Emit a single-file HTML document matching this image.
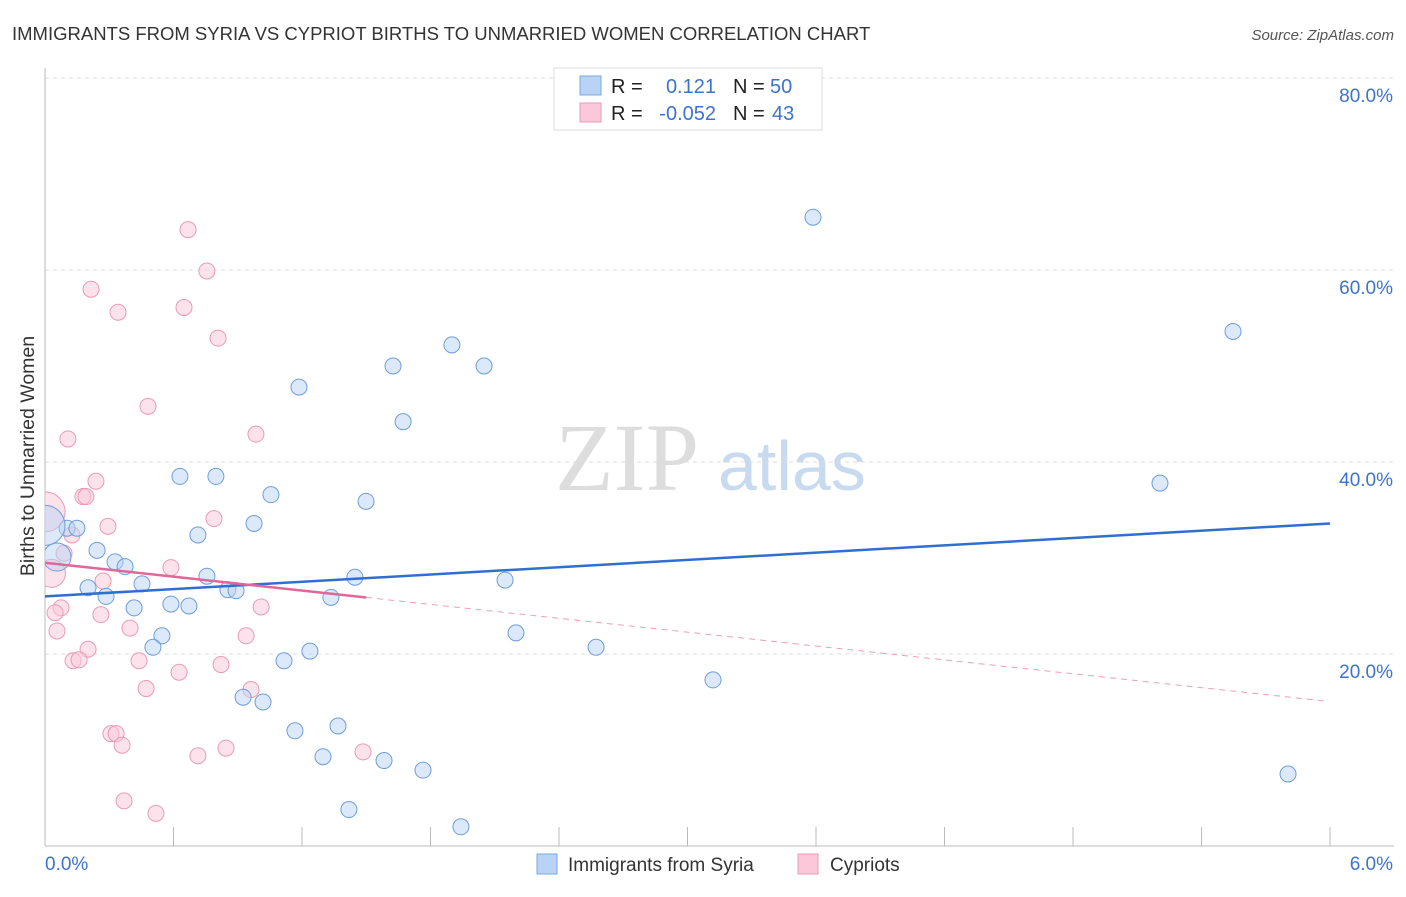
<!DOCTYPE html>
<html><head><meta charset="utf-8"><style>
body{margin:0;background:#fff;font-family:"Liberation Sans",sans-serif;}
svg text{font-family:"Liberation Sans",sans-serif;}
</style></head><body>
<svg id="chart" width="1406" height="892" xmlns="http://www.w3.org/2000/svg">
<defs><clipPath id="plotclip"><rect x="45" y="60" width="1360" height="786"/></clipPath></defs>
<text x="12" y="40" font-size="18.5" fill="#333">IMMIGRANTS FROM SYRIA VS CYPRIOT BIRTHS TO UNMARRIED WOMEN CORRELATION CHART</text>
<text x="1394" y="40" font-size="15" fill="#555" font-style="italic" text-anchor="end">Source: ZipAtlas.com</text>
<text transform="translate(34,456) rotate(-90)" font-size="19.5" fill="#333" text-anchor="middle">Births to Unmarried Women</text>
<g>
<text x="555" y="490" font-size="96" fill="#ddd" style="font-family:'Liberation Serif',serif">ZIP</text>
<text x="718" y="490" font-size="70" fill="#c8daf0">atlas</text>
</g>
<g id="grid"></g><g id="axes"></g><g id="pts" clip-path="url(#plotclip)"></g><g id="lines"></g>
<g>
<rect x="554" y="68" width="268" height="62" fill="#fff" stroke="#ddd"/>
<rect x="580" y="76" width="21" height="19" fill="#b8d3f5" stroke="#7aa8e0"/>
<rect x="580" y="103" width="21" height="19" fill="#fac8d8" stroke="#ec9ab5"/>
<text x="611" y="93" font-size="20" fill="#222">R =</text>
<text x="716" y="93" font-size="20" fill="#3b73cf" text-anchor="end">0.121</text>
<text x="733" y="93" font-size="20" fill="#222">N =</text>
<text x="770" y="93" font-size="20" fill="#3b73cf">50</text>
<text x="611" y="120" font-size="20" fill="#222">R =</text>
<text x="716" y="120" font-size="20" fill="#3b73cf" text-anchor="end">-0.052</text>
<text x="733" y="120" font-size="20" fill="#222">N =</text>
<text x="772" y="120" font-size="20" fill="#3b73cf">43</text>
</g>
<g>
<rect x="537" y="854" width="20" height="20" fill="#b8d3f5" stroke="#7aa8e0"/>
<text x="568" y="871" font-size="19" fill="#333">Immigrants from Syria</text>
<rect x="798" y="854" width="20" height="20" fill="#fac8d8" stroke="#ec9ab5"/>
<text x="830" y="871" font-size="19" fill="#333">Cypriots</text>
</g>
</svg>
<script>
const blueX=[3.586,5.547,1.900,1.625,2.050,1.186,1.672,0.630,0.798,5.206,1.055,1.499,0.976,0.103,0.149,0.714,0.243,0.056,0.327,0.374,0.756,1.447,2.148,0.453,0.201,0.854,0.892,0.285,1.335,0.588,0.672,0.416,2.199,0.546,0.504,2.573,1.237,1.116,3.119,0.925,1.018,1.167,1.368,1.298,1.583,1.765,5.804,1.419,1.942,0.0];
const blueY=[65.5,53.6,52.2,50.0,50.0,47.8,44.2,38.5,38.5,37.8,36.6,35.9,33.6,33.1,33.1,32.4,30.8,30.1,29.6,29.1,28.1,28.0,27.7,27.3,26.9,26.7,26.6,26.0,25.9,25.2,25.0,24.8,22.2,21.9,20.7,20.7,20.3,19.3,17.3,15.5,15.0,12.0,12.5,9.3,8.9,7.9,7.5,3.8,2.0,33.4];
const pinkX=[0.668,0.756,0.215,0.649,0.341,0.808,0.481,0.985,0.107,0.238,0.177,0.191,0.789,0.294,0.0,0.126,0.089,0.588,0.271,0.03,0.075,0.047,0.261,0.397,0.939,0.056,0.201,0.131,0.159,0.439,0.822,0.626,0.472,0.962,1.009,0.308,0.332,0.360,0.845,0.714,1.485,0.369,0.518];
const pinkY=[64.2,59.9,58.0,56.1,55.6,52.9,45.8,42.9,42.4,38.0,36.4,36.4,34.1,33.3,34.8,32.4,30.5,29.0,27.6,28.4,24.8,24.3,24.1,22.7,21.9,22.4,20.5,19.3,19.4,19.3,18.9,18.1,16.4,16.3,24.9,11.7,11.7,10.5,10.2,9.4,9.8,4.7,3.4];
const yTicks=[20,40,60,80];
const yTickLabels=["20.0%","40.0%","60.0%","80.0%"];
const blueTrend=[26.0,33.6];
const pinkTrend=[29.5,15.05];
const NS="http://www.w3.org/2000/svg";
const X=v=>45+v*214.17, Y=v=>846-v*9.6;
const bigBlue={49:20,17:14}, bigPink={14:20,19:14};
function mk(tag,attrs,parent){const e=document.createElementNS(NS,tag);for(const k in attrs)e.setAttribute(k,attrs[k]);document.getElementById(parent).appendChild(e);return e;}
yTicks.forEach((t,i)=>{
 const l=mk('line',{x1:45,x2:1394,y1:Y(t),y2:Y(t),stroke:'#ddd','stroke-dasharray':'4,4'},'grid');
 
 
 const tx=mk('text',{x:1393,y:Y(t)+24,'font-size':19,fill:'#3b73cf','text-anchor':'end'},'grid');
 tx.textContent=yTickLabels[i];
 
 
});
mk('line',{x1:45,x2:45,y1:68,y2:846,stroke:'#bbb'},'axes');
mk('line',{x1:45,x2:1394,y1:846,y2:846,stroke:'#bbb'},'axes');
for(let i=0;i<=10;i++){mk('line',{x1:X(i*0.6),x2:X(i*0.6),y1:827,y2:846,stroke:'#bbb'},'axes');}
let t0=mk('text',{x:45,y:870,'font-size':19,fill:'#3b73cf'},'axes');t0.textContent='0.0%';


let t1=mk('text',{x:1393,y:870,'font-size':19,fill:'#3b73cf','text-anchor':'end'},'axes');t1.textContent='6.0%';


pinkX.forEach((v,i)=>{const c=mk('circle',{cx:X(v),cy:Y(pinkY[i]),r:bigPink[i]||8,fill:'rgba(250,200,216,0.5)',stroke:'#ec9ab5','stroke-width':1},'pts');
 
 });
blueX.forEach((v,i)=>{const c=mk('circle',{cx:X(v),cy:Y(blueY[i]),r:bigBlue[i]||8,fill:'rgba(184,211,245,0.5)',stroke:'#6f9ddb','stroke-width':1},'pts');
 
 });
const bl=mk('line',{x1:X(0),y1:Y(blueTrend[0]),x2:X(6),y2:Y(blueTrend[1]),stroke:'#2f6fd0','stroke-width':2.5},'lines');


const pAt=x=>pinkTrend[0]+(pinkTrend[1]-pinkTrend[0])*x/6;
const pl=mk('line',{x1:X(0),y1:Y(pAt(0)),x2:X(1.5),y2:Y(pAt(1.5)),stroke:'#e0679a','stroke-width':2.5},'lines');


const pd=mk('line',{x1:X(1.5),y1:Y(pAt(1.5)),x2:X(5.98),y2:Y(pAt(5.98)),stroke:'#e8a0bb','stroke-width':1,'stroke-dasharray':'6,5'},'lines');


</script>
</body></html>
